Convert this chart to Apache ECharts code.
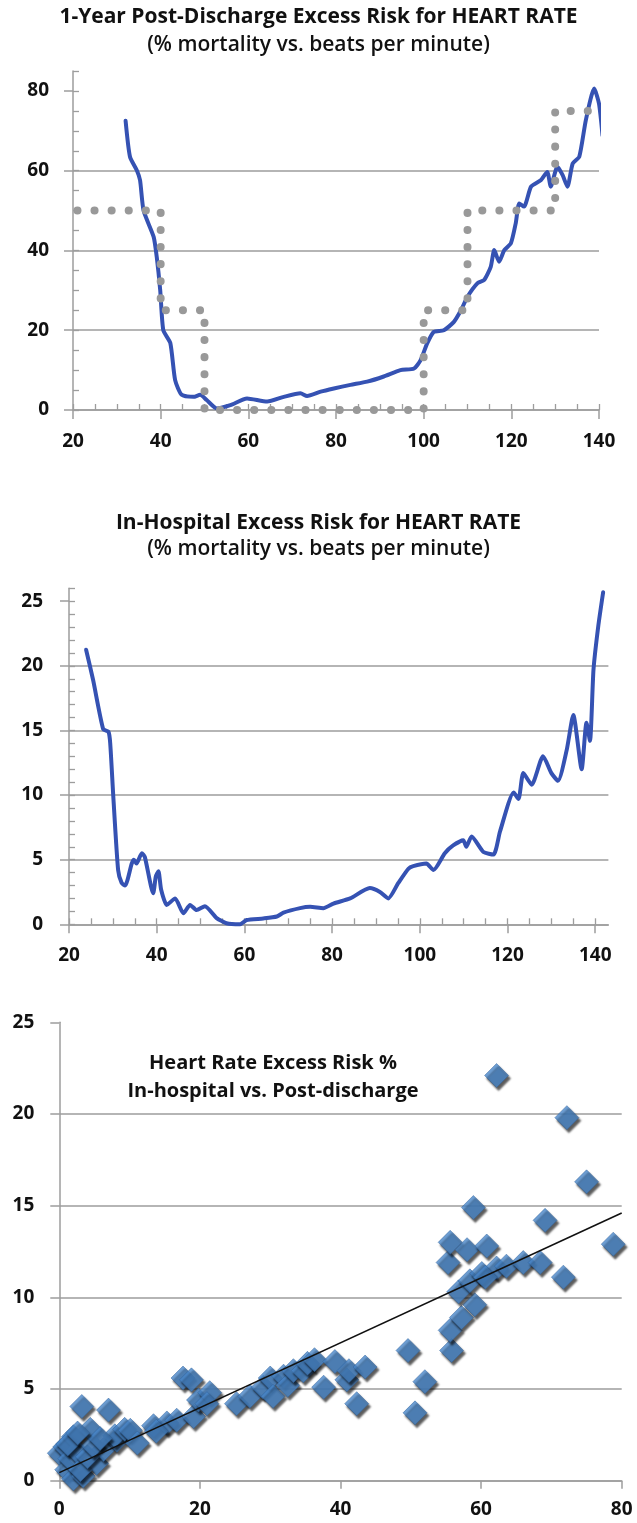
<!DOCTYPE html>
<html><head><meta charset="utf-8">
<script src="https://cdn.jsdelivr.net/npm/echarts@6/dist/echarts.min.js"></script>
<style>html,body{margin:0;padding:0;background:#fff}#c{width:637px;height:1523px}</style>
</head><body><div id="c"></div>
<script>
// ---------- Chart 1: 1-year post-discharge excess risk vs heart rate ----------
const postHR = [32, 33, 34.6, 35.3, 36.1, 38.4, 39.1, 39.9, 40.6, 42.2, 43.3, 44.8, 47.5, 49, 50.5, 52.8, 55.9, 59.7, 64.3, 68.1, 71.9, 73.4, 76.5, 79.5, 83.3, 87.1, 90.9, 94.7, 97.8, 99.3, 100.8, 102.3, 104.6, 106.9, 108.5, 110, 112.3, 113.8, 115.3, 116.1, 117.2, 118.4, 119.9, 121, 121.8, 122.9, 124.5, 126.7, 128.2, 129, 130.5, 131.7, 132.8, 134, 135.5, 137, 138.9, 140, 140.8];
const postRisk = [72.5, 63.5, 60, 57.6, 50, 43.4, 38.4, 30, 20, 16.8, 7.5, 3.8, 3.3, 3.8, 2.5, 0.4, 1.2, 2.9, 2.1, 3.3, 4.2, 3.5, 4.6, 5.4, 6.3, 7.1, 8.4, 10, 10.4, 12.5, 16.7, 19.6, 20, 22.1, 25, 28.4, 31.8, 32.6, 35.9, 40.1, 37.2, 40.1, 41.8, 46.8, 51.8, 51, 56, 57.6, 59.7, 56, 61, 58.9, 56, 61.8, 63.5, 72.7, 80.6, 76.8, 68.9];
const stepHR = [21, 40, 40, 50, 50, 100, 100, 110, 110, 130, 130, 138.5];
const stepRisk = [50, 50, 25, 25, 0, 0, 25, 25, 50, 50, 75, 75];
const topYTicks = [0, 20, 40, 60, 80];
const topYMinor = [0, 5, 10, 15, 20, 25, 30, 35, 40, 45, 50, 55, 60, 65, 70, 75, 80, 85];
const hrTicks = [20, 40, 60, 80, 100, 120, 140];
const hrMinor = [20, 25, 30, 35, 40, 45, 50, 55, 60, 65, 70, 75, 80, 85, 90, 95, 100, 105, 110, 115, 120, 125, 130, 135, 140];

// ---------- Chart 2: in-hospital excess risk vs heart rate ----------
const inHR = [23.9, 25.5, 27.8, 29, 29.4, 30.1, 31.2, 32, 32.8, 34.3, 34.8, 35.4, 36.6, 37.3, 39.2, 39.8, 40.4, 41, 42.3, 44.2, 46.1, 47.6, 49.1, 51, 53.6, 55.9, 59, 60.5, 64.3, 67.4, 68.9, 72.7, 75, 78, 80.3, 84.1, 88.6, 90.9, 92.8, 95.1, 97.4, 98.5, 101.5, 103.1, 105.7, 107.6, 109.9, 110.6, 111.8, 114.5, 116.8, 118.3, 121.4, 122.5, 123.6, 125.5, 128.1, 130, 131.5, 133.5, 135, 136.9, 138, 138.8, 139.6, 140.7, 141.8];
const inRisk = [21.25, 18.9, 15.1, 14.9, 14.0, 9.9, 4.2, 3.2, 3.0, 4.7, 5.0, 4.7, 5.5, 5.2, 2.4, 3.7, 4.1, 2.7, 1.5, 2.0, 0.85, 1.5, 1.1, 1.4, 0.5, 0.08, 0, 0.33, 0.45, 0.6, 0.9, 1.25, 1.35, 1.25, 1.6, 2.0, 2.8, 2.5, 2.0, 3.2, 4.3, 4.5, 4.7, 4.2, 5.5, 6.1, 6.5, 6.0, 6.8, 5.6, 5.4, 7.2, 10.2, 9.7, 11.7, 10.8, 13.0, 11.7, 11.1, 13.5, 16.2, 12.0, 15.6, 14.2, 19.7, 23.1, 25.7];
const midYTicks = [0, 5, 10, 15, 20, 25];
const midYMinor = [0, 1, 2, 3, 4, 5, 6, 7, 8, 9, 10, 11, 12, 13, 14, 15, 16, 17, 18, 19, 20, 21, 22, 23, 24, 25, 26];

// ---------- Chart 3: scatter in-hospital (y) vs post-discharge (x) ----------
const scPost = [0, 0.8, 1.05, 2.0, 3.4, 2.0, 4.4, 3.2, 7.0, 5.3, 6.3, 8.2, 7.9, 9.3, 10.1, 11.1, 13.4, 15.3, 16.7, 17.6, 18.8, 19.1, 19.8, 21.4, 21.0, 25.2, 27.1, 29.0, 30.0, 30.4, 31.9, 32.5, 33.3, 34.7, 35.3, 36.3, 37.6, 39.2, 40.9, 41.2, 43.5, 42.3, 49.6, 52.0, 50.6, 55.8, 55.6, 57.2, 59.1, 56.8, 58.4, 60.1, 62.2, 63.6, 55.3, 55.6, 58.0, 60.8, 66.0, 68.4, 71.7, 78.8, 69.1, 58.9, 75.0, 72.2, 62.2, 1.5, 2.5, 3.0, 4.0, 4.8, 5.8, 1.2, 2.6, 13.8, 60.6];
const scIn = [1.5, 1.85, 0.6, 0.1, 0.25, 2.4, 2.8, 4.05, 3.85, 0.95, 1.7, 2.2, 2.45, 2.8, 2.75, 2.05, 3.0, 3.15, 3.3, 5.6, 5.5, 3.5, 4.4, 4.8, 4.2, 4.2, 4.6, 5.1, 5.6, 4.6, 5.7, 5.2, 6.0, 6.0, 6.4, 6.6, 5.1, 6.5, 5.5, 6.0, 6.2, 4.2, 7.1, 5.4, 3.7, 7.1, 8.2, 8.9, 9.6, 10.3, 10.9, 11.3, 11.6, 11.7, 11.9, 13.0, 12.6, 12.8, 11.9, 11.9, 11.1, 12.9, 14.2, 14.9, 16.3, 19.8, 22.1, 1.2, 1.6, 0.6, 1.3, 1.9, 2.3, 2.0, 2.6, 2.7, 11.1];
const trendPost = [0, 80];
const trendIn = [0.44, 14.6];
const botXTicks = [0, 20, 40, 60, 80];
const botYTicks = [0, 5, 10, 15, 20, 25];

const zip = (a, b) => a.map((v, i) => [v, b[i]]);
const GRAY = '#9d9d9d';
const FONT = '"Open Sans", Lato, sans-serif';
const labelStyle = { fontFamily: FONT, fontWeight: 'bold', fontSize: 19, color: '#111' };

function mainAxis(gridIndex, pos, min, max, ticks, tickLen, margin, split) {
  return {
    type: 'value', gridIndex, position: pos, min, max,
    axisLine: { show: true, onZero: false, lineStyle: { color: GRAY, width: 1.5 } },
    axisTick: { show: true, inside: false, length: tickLen, customValues: ticks, lineStyle: { color: GRAY, width: 1.5 } },
    axisLabel: Object.assign({ customValues: ticks, margin }, labelStyle),
    splitLine: { show: split, showMinLine: true, showMaxLine: false, lineStyle: { color: GRAY, width: 1.5 } }
  };
}
function minorAxis(gridIndex, pos, min, max, ticks) {
  return {
    type: 'value', gridIndex, position: pos, offset: 0, min, max,
    axisLine: { show: false, onZero: false },
    axisTick: { show: true, inside: true, length: 6, customValues: ticks, lineStyle: { color: GRAY, width: 1.3 } },
    axisLabel: { show: false },
    splitLine: { show: false }
  };
}
const titleBold = { fontFamily: FONT, fontWeight: 'bold', fontSize: 21, color: '#111' };
const titleSub = { fontFamily: FONT, fontWeight: 600, fontSize: 21, color: '#111' };

const option = {
  animation: false,
  backgroundColor: '#ffffff',
  title: [
    { text: '1-Year Post-Discharge Excess Risk for HEART RATE', left: 'center', top: 7, padding: 0, textStyle: titleBold },
    { text: '(% mortality vs. beats per minute)', left: 'center', top: 35, padding: 0, textStyle: titleSub },
    { text: 'In-Hospital Excess Risk for HEART RATE', left: 'center', top: 513, padding: 0, textStyle: titleBold },
    { text: '(% mortality vs. beats per minute)', left: 'center', top: 539, padding: 0, textStyle: titleSub },
    { text: 'Heart Rate Excess Risk %', left: 273, textAlign: 'center', top: 1053, padding: 0,
      textStyle: { fontFamily: FONT, fontWeight: 'bold', fontSize: 20, color: '#111' } },
    { text: 'In-hospital vs. Post-discharge', left: 273, textAlign: 'center', top: 1081, padding: 0,
      textStyle: { fontFamily: FONT, fontWeight: 'bold', fontSize: 20, color: '#111' } }
  ],
  grid: [
    { left: 73, right: 38, top: 71, bottom: 1113 },
    { left: 69, right: 28.6, top: 588.3, bottom: 598.7 },
    { left: 59.3, right: 15.3, top: 1022.3, bottom: 42.3 }
  ],
  xAxis: [
    mainAxis(0, 'bottom', 20, 140, hrTicks, 9, 22, false),
    minorAxis(0, 'bottom', 20, 140, hrMinor),
    mainAxis(1, 'bottom', 20, 143, hrTicks, 9, 22, false),
    minorAxis(1, 'bottom', 20, 143, hrMinor),
    mainAxis(2, 'bottom', 0, 80, botXTicks, 8, 19, false)
  ],
  yAxis: [
    mainAxis(0, 'left', 0, 85, topYTicks, 9, 24, true),
    minorAxis(0, 'left', 0, 85, topYMinor),
    mainAxis(1, 'left', 0, 26, midYTicks, 9, 26, true),
    minorAxis(1, 'left', 0, 26, midYMinor),
    mainAxis(2, 'left', 0, 25, botYTicks, 9, 25, true)
  ],
  series: [
    { type: 'line', xAxisIndex: 0, yAxisIndex: 0, data: zip(postHR, postRisk), showSymbol: false, symbol: 'none',
      smooth: 0.2, clip: false, z: 3, lineStyle: { color: '#3552b3', width: 4, join: 'round', cap: 'round' } },
    { type: 'line', xAxisIndex: 0, yAxisIndex: 0, data: zip(stepHR, stepRisk), showSymbol: false, symbol: 'none',
      clip: false, z: 4, lineStyle: { color: '#999999', width: 8, type: [0.1, 17], cap: 'round' } },
    { type: 'line', xAxisIndex: 2, yAxisIndex: 2, data: zip(inHR, inRisk), showSymbol: false, symbol: 'none',
      smooth: 0.2, clip: false, z: 3, lineStyle: { color: '#3552b3', width: 4, join: 'round', cap: 'round' } },
    { type: 'scatter', xAxisIndex: 4, yAxisIndex: 4, data: zip(scPost, scIn), symbol: 'diamond', symbolSize: 24,
      clip: false, z: 3,
      itemStyle: { color: '#4886c8', borderColor: '#2e5f98', borderWidth: 0.6,
        shadowColor: 'rgba(0,0,0,0.8)', shadowBlur: 2, shadowOffsetX: 2, shadowOffsetY: 3 } },
    { type: 'line', xAxisIndex: 4, yAxisIndex: 4, data: zip(trendPost, trendIn), showSymbol: false, symbol: 'none',
      z: 5, lineStyle: { color: '#111', width: 1.6 } }
  ]
};
const chart = echarts.init(document.getElementById('c'), null, { renderer: 'canvas' });
chart.setOption(option);
</script></body></html>
